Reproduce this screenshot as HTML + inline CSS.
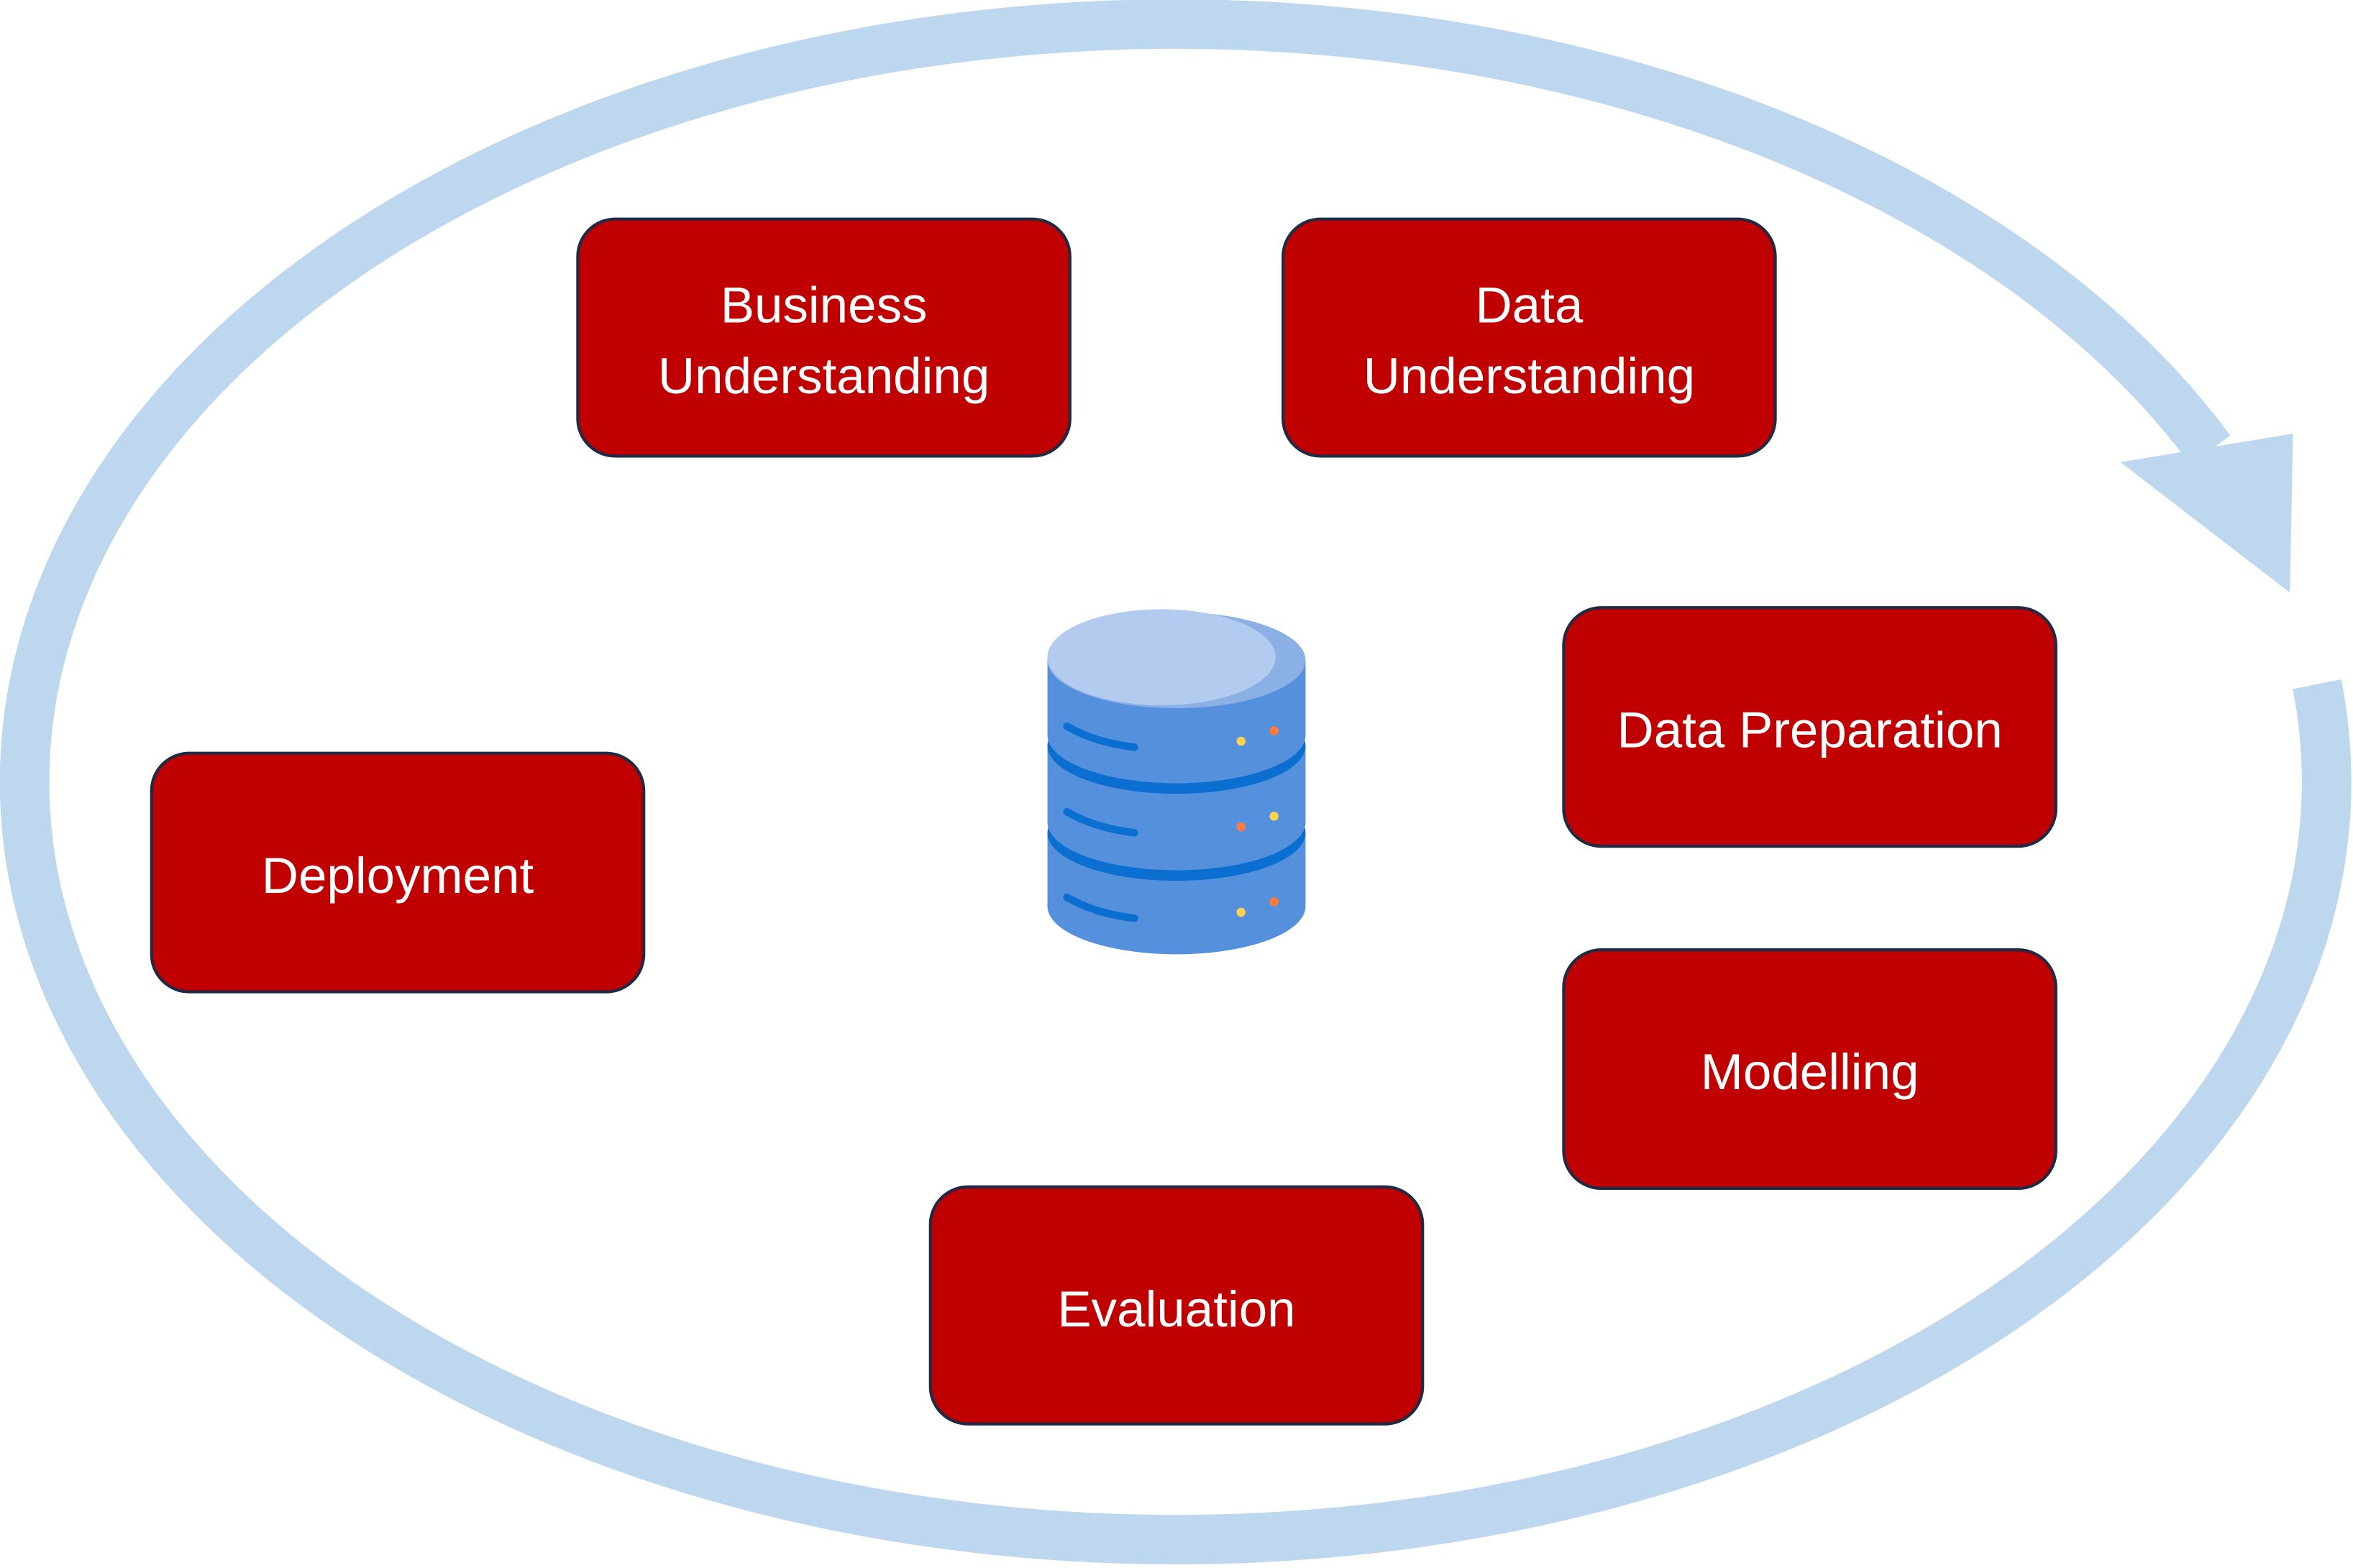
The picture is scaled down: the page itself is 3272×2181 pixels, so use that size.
<!DOCTYPE html>
<html><head><meta charset="utf-8"><style>
html,body{margin:0;padding:0;background:#fff;}
svg{display:block;}
text{font-family:"Liberation Sans",sans-serif;fill:#fff;font-size:34px;text-anchor:middle;}
</style></head><body>
<svg width="3272" height="2181" viewBox="0 0 1568 1045" preserveAspectRatio="none">
<path d="M1544,456 A767,505 0 1 1 1473,300" fill="none" stroke="#bdd7ee" stroke-width="33"/>
<polygon points="1413,308 1528,289 1526,395" fill="#bdd7ee"/>
<g stroke="#1f2a44" stroke-width="2" fill="#c00000">
<rect x="385" y="146" width="328" height="158" rx="25"/>
<rect x="855" y="146" width="328" height="158" rx="25"/>
<rect x="1042" y="405" width="328" height="159" rx="25"/>
<rect x="101" y="502" width="328" height="159" rx="25"/>
<rect x="1042" y="633" width="328" height="159" rx="25"/>
<rect x="620" y="791" width="328" height="158" rx="25"/>
</g>
<text x="549" y="215">Business</text>
<text x="549" y="262">Understanding</text>
<text x="1019" y="215">Data</text>
<text x="1019" y="262">Understanding</text>
<text x="1206" y="498">Data Preparation</text>
<text x="265" y="595">Deployment</text>
<text x="1206" y="726">Modelling</text>
<text x="784" y="884">Evaluation</text>
<g>
<ellipse cx="784" cy="604" rx="86" ry="32" fill="#5590dc"/>
<rect x="698" y="555" width="172" height="49" fill="#5590dc"/>
<ellipse cx="784" cy="555" rx="86" ry="32" fill="#0a6fd1"/>
<rect x="698" y="497" width="172" height="51" fill="#5590dc"/>
<ellipse cx="784" cy="548" rx="86" ry="32" fill="#5590dc"/>
<ellipse cx="784" cy="497" rx="86" ry="32" fill="#0a6fd1"/>
<rect x="698" y="440" width="172" height="50" fill="#5590dc"/>
<ellipse cx="784" cy="490" rx="86" ry="32" fill="#5590dc"/>
<ellipse cx="784" cy="440" rx="86" ry="32" fill="#8ab0e5"/>
<ellipse cx="774" cy="438" rx="76" ry="32" fill="#b3cbee"/>
<g stroke="#0a6fd1" stroke-width="5" stroke-linecap="round" fill="none">
<path d="M711,484 Q730,495 756,498"/>
<path d="M711,541 Q730,552 756,555"/>
<path d="M711,598 Q730,609 756,612"/>
</g>
<g fill="#ffd34e"><circle cx="827" cy="494" r="3"/><circle cx="849" cy="544" r="3"/><circle cx="827" cy="608" r="3"/></g>
<g fill="#ff7b3a"><circle cx="849" cy="487" r="3"/><circle cx="827" cy="551" r="3"/><circle cx="849" cy="601" r="3"/></g>
</g>
</svg>
</body></html>
